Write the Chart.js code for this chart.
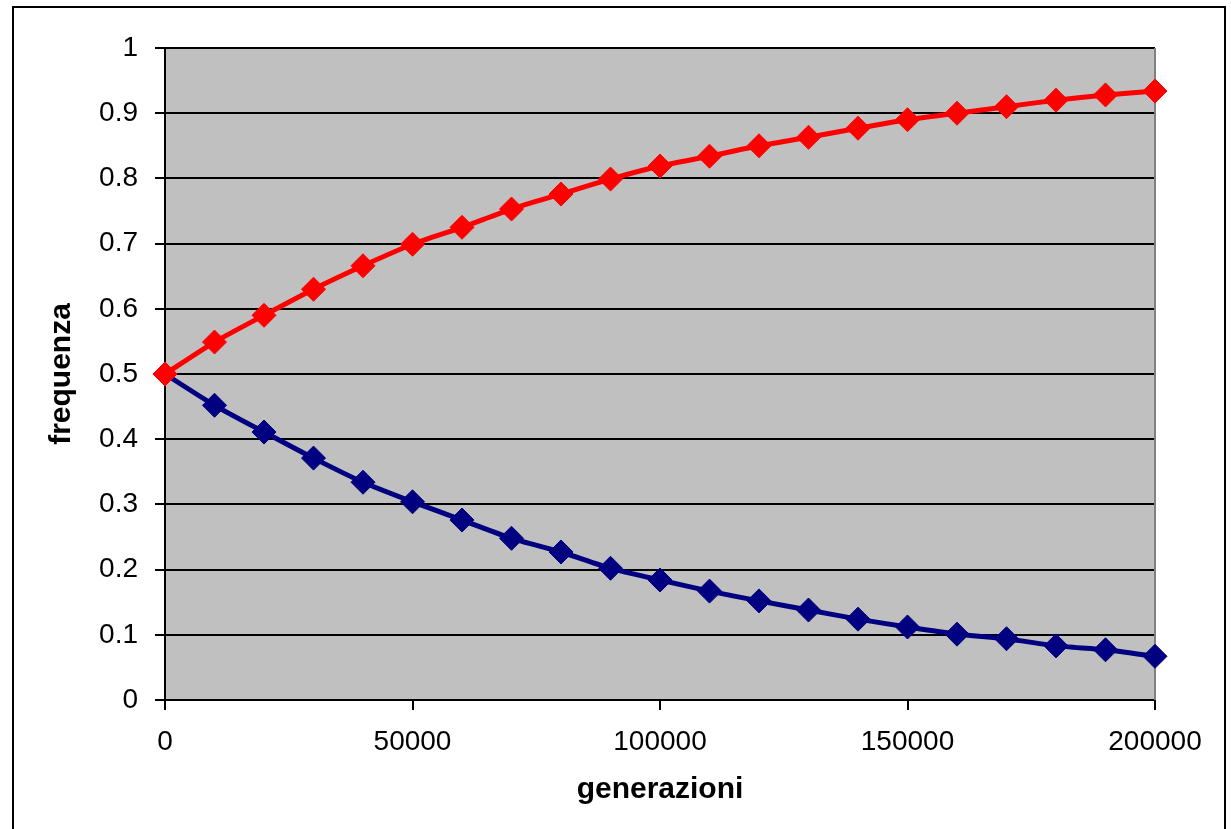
<!DOCTYPE html>
<html>
<head>
<meta charset="utf-8">
<script src="https://cdn.jsdelivr.net/npm/chart.js@4/dist/chart.umd.min.js"></script>
<style>
  html, body { margin: 0; padding: 0; background: #ffffff; }
  #wrap { width: 1231px; height: 829px; position: relative; }
</style>
</head>
<body>
<div id="wrap"><canvas id="c" width="1231" height="829"></canvas></div>
<script>
// Generations sampled every 10000
const generazioni = [0, 10000, 20000, 30000, 40000, 50000, 60000, 70000, 80000, 90000, 100000,
  110000, 120000, 130000, 140000, 150000, 160000, 170000, 180000, 190000, 200000];

// Allele frequencies (rising and falling)
const frequenzaA = [0.500, 0.549, 0.590, 0.630, 0.666, 0.699, 0.725, 0.753, 0.776, 0.799, 0.819,
  0.834, 0.850, 0.863, 0.877, 0.890, 0.900, 0.910, 0.920, 0.928, 0.934];
const frequenzaB = [0.500, 0.452, 0.411, 0.371, 0.334, 0.304, 0.276, 0.248, 0.227, 0.202, 0.184,
  0.167, 0.152, 0.138, 0.124, 0.112, 0.101, 0.094, 0.083, 0.077, 0.067];

const xTicks = [0, 50000, 100000, 150000, 200000];
const yTicks = [0, 0.1, 0.2, 0.3, 0.4, 0.5, 0.6, 0.7, 0.8, 0.9, 1];

const FONT = '"Liberation Sans", Arial, sans-serif';

function toPoints(values) {
  return generazioni.map((g, i) => ({ x: g, y: values[i] }));
}

// Grey plot background, outer frame and right edge of the plot
const decorations = {
  id: 'decorations',
  beforeDraw(chart) {
    const { ctx, chartArea: a } = chart;
    ctx.save();
    ctx.fillStyle = '#ffffff';
    ctx.fillRect(0, 0, chart.width, chart.height);
    ctx.fillStyle = '#c0c0c0';
    ctx.fillRect(a.left, a.top, a.right - a.left, a.bottom - a.top);
    ctx.strokeStyle = '#000000';
    ctx.lineWidth = 2;
    ctx.strokeRect(13, 7, 1212, 900);
    ctx.restore();
  },
  beforeDatasetsDraw(chart) {
    const { ctx, chartArea: a } = chart;
    ctx.save();
    ctx.strokeStyle = '#808080';
    ctx.lineWidth = 2;
    ctx.beginPath();
    ctx.moveTo(a.right, a.top);
    ctx.lineTo(a.right, a.bottom);
    ctx.stroke();
    ctx.restore();
  }
};

new Chart(document.getElementById('c'), {
  type: 'line',
  data: {
    datasets: [
      {
        label: 'A',
        data: toPoints(frequenzaA),
        borderColor: '#ff0000',
        backgroundColor: '#ff0000',
        borderWidth: 5,
        pointStyle: 'rectRot',
        pointRadius: 12,
        pointBorderWidth: 1,
        pointBackgroundColor: '#ff0000',
        pointBorderColor: '#ff0000',
        tension: 0.2,
        clip: false
      },
      {
        label: 'B',
        data: toPoints(frequenzaB),
        borderColor: '#000080',
        backgroundColor: '#000080',
        borderWidth: 5,
        pointStyle: 'rectRot',
        pointRadius: 12,
        pointBorderWidth: 1,
        pointBackgroundColor: '#000080',
        pointBorderColor: '#000080',
        tension: 0.2,
        clip: false
      }
    ]
  },
  options: {
    responsive: false,
    animation: false,
    events: [],
    layout: { padding: { left: 0, top: 48, right: 76, bottom: 0 } },
    plugins: {
      legend: { display: false },
      tooltip: { enabled: false }
    },
    scales: {
      x: {
        type: 'linear',
        min: 0,
        max: 200000,
        afterFit(scale) { scale.height = 129; },
        afterBuildTicks(scale) { scale.ticks = xTicks.map(v => ({ value: v })); },
        ticks: {
          color: '#000000',
          font: { family: FONT, size: 28 },
          padding: 15,
          maxRotation: 0,
          callback: v => String(v)
        },
        grid: { drawOnChartArea: false, drawTicks: true, tickLength: 10, color: '#000000', lineWidth: 2 },
        border: { display: true, color: '#000000', width: 2 },
        title: {
          display: true,
          text: 'generazioni',
          color: '#000000',
          font: { family: FONT, size: 30, weight: 'bold' },
          padding: { top: 0, bottom: 21 }
        }
      },
      y: {
        type: 'linear',
        min: 0,
        max: 1,
        afterFit(scale) { scale.width = 165; },
        afterBuildTicks(scale) { scale.ticks = yTicks.map(v => ({ value: v })); },
        ticks: {
          color: '#000000',
          font: { family: FONT, size: 28 },
          padding: 17,
          callback: v => String(Number(v.toFixed(1)))
        },
        grid: { drawOnChartArea: true, drawTicks: true, tickLength: 10, color: '#000000', lineWidth: 2 },
        border: { display: true, color: '#000000', width: 2 },
        title: {
          display: true,
          text: 'frequenza',
          color: '#000000',
          font: { family: FONT, size: 30, weight: 'bold' },
          padding: { top: 44, bottom: 0 }
        }
      }
    }
  },
  plugins: [decorations]
});
</script>
</body>
</html>
